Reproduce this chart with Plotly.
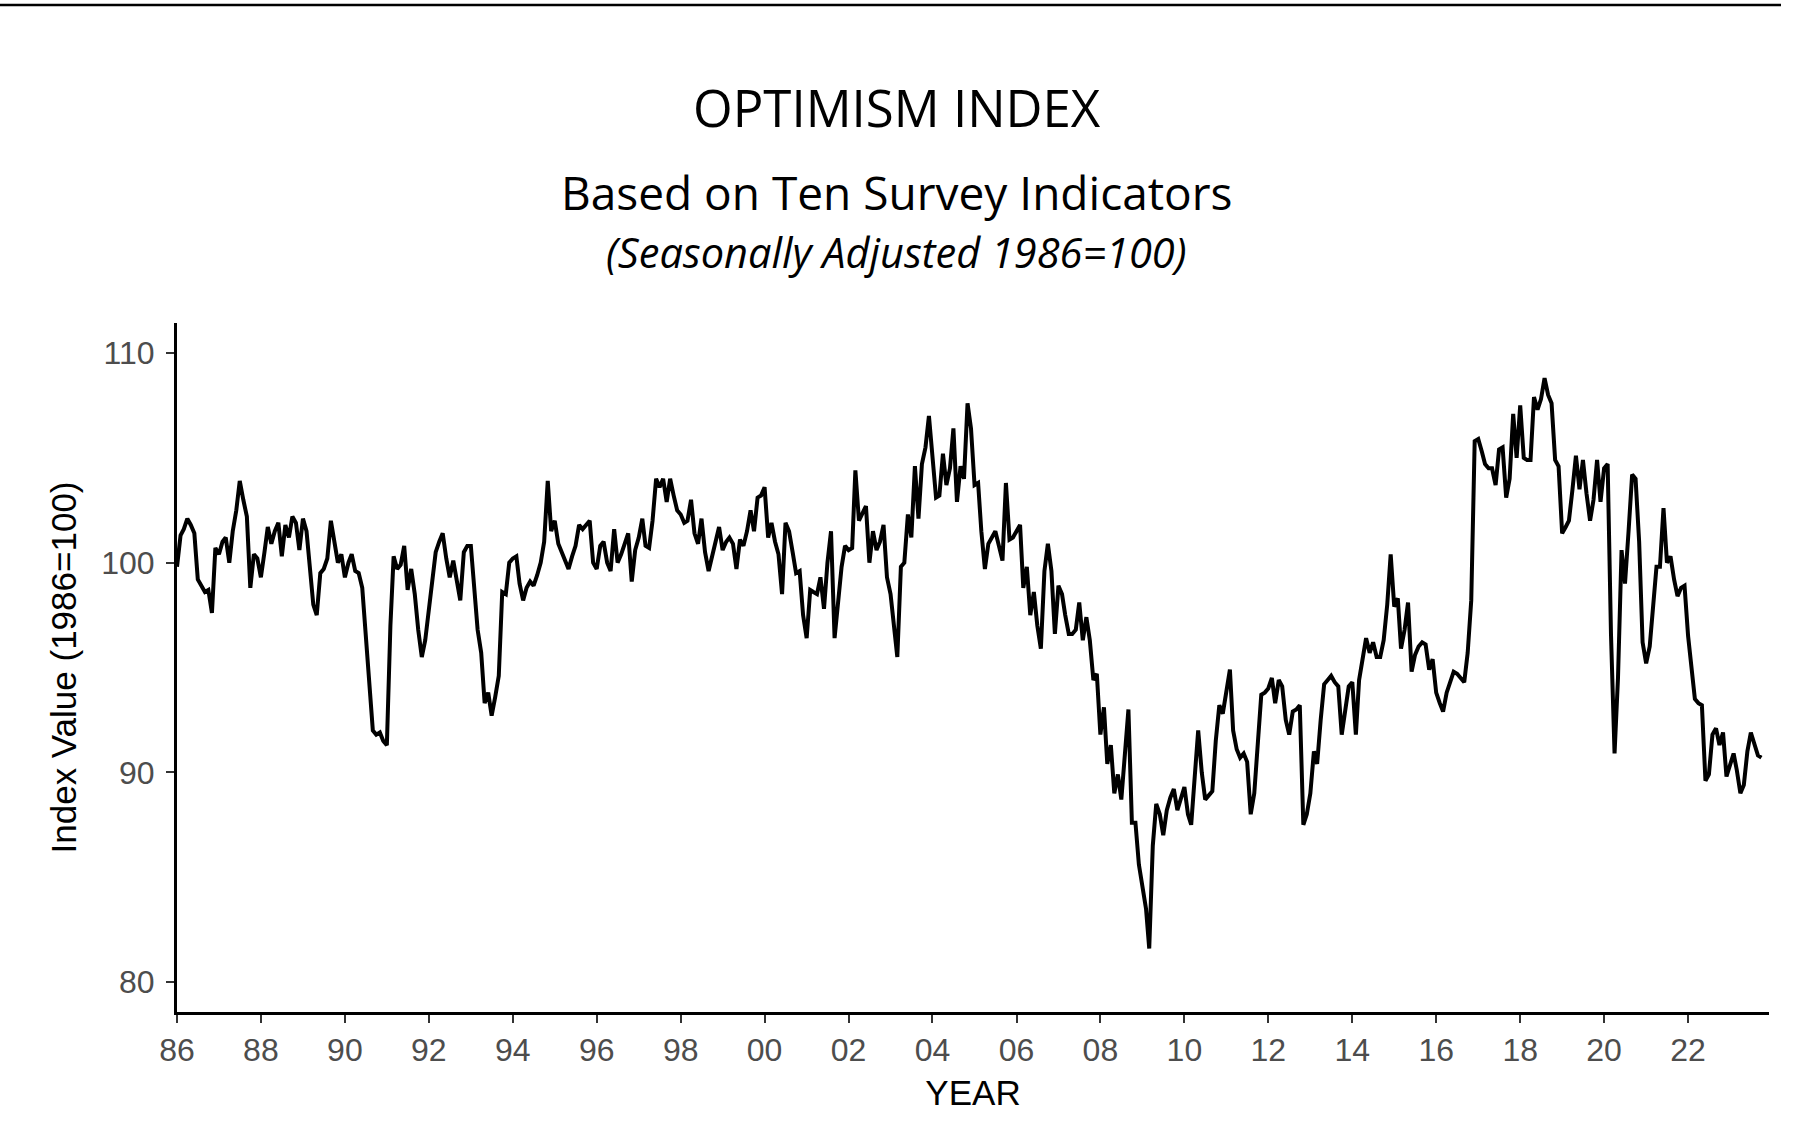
import pandas as pd
import plotly.graph_objects as go

# Monthly index values (Jan 1986 onward)
values_1986_1989 = [
    99.8, 101.3, 101.6, 102.1, 101.8, 101.4, 99.2, 98.9, 98.6, 98.7, 97.6, 100.7,
    100.4, 101.0, 101.2, 100.0, 101.5, 102.5, 103.9, 103.0, 102.2, 98.8, 100.4, 100.2,
    99.3, 100.5, 101.7, 100.9, 101.5, 101.9, 100.3, 101.8, 101.2, 102.2, 101.9, 100.6,
    102.1, 101.5, 100.0, 98.0, 97.5, 99.5, 99.7, 100.2, 102.0, 101.0, 100.0, 100.4,
]
values_1990s = [
    99.3, 100.0, 100.4, 99.6, 99.5, 98.8, 96.5, 94.0, 92.0, 91.8, 91.9, 91.5,
    91.3, 97.0, 100.3, 99.7, 99.9, 100.8, 98.7, 99.7, 98.5, 96.8, 95.5, 96.3,
    97.8, 99.5, 100.5, 101.0, 101.4, 100.2, 99.3, 100.1, 99.0, 98.2, 100.5, 100.8,
    100.8, 98.5, 96.8, 95.7, 93.3, 93.8, 92.7, 93.6, 94.6, 98.6, 98.5, 100.0,
    100.2, 100.3, 99.0, 98.2, 98.8, 99.1, 98.9, 99.4, 100.0, 101.0, 103.9, 101.5,
    102.0, 100.9, 100.5, 100.0, 99.7, 100.3, 100.8, 101.8, 101.6, 101.8, 102.0, 100.0,
    99.7, 100.8, 101.0, 100.0, 99.6, 101.6, 100.0, 100.4, 100.9, 101.4, 99.1, 100.6,
    101.2, 102.1, 100.8, 100.7, 102.0, 104.0, 103.6, 104.0, 102.9, 104.0, 103.2, 102.5,
    102.3, 101.9, 102.0, 103.0, 101.4, 100.9, 102.1, 100.5, 99.6, 100.3, 101.0, 101.7,
    100.6, 101.0, 101.2, 100.9, 99.7, 101.1, 100.8, 101.5, 102.5, 101.5, 103.1, 103.2,
]
values_2000s = [
    103.6, 101.2, 101.9, 101.0, 100.4, 98.5, 101.9, 101.5, 100.5, 99.5, 99.6, 97.5,
    96.4, 98.7, 98.6, 98.5, 99.3, 97.8, 100.0, 101.5, 96.4, 98.0, 99.8, 100.8,
    100.6, 100.7, 104.4, 102.0, 102.3, 102.7, 100.0, 101.5, 100.6, 101.0, 101.8, 99.3,
    98.5, 97.0, 95.5, 99.8, 100.0, 102.3, 101.2, 104.6, 102.1, 104.7, 105.5, 107.0,
    105.2, 103.1, 103.2, 105.2, 103.7, 104.5, 106.4, 102.9, 104.6, 104.0, 107.6, 106.4,
    103.7, 103.8, 101.5, 99.7, 100.9, 101.2, 101.5, 100.8, 100.1, 103.8, 101.1, 101.2,
    101.5, 101.8, 98.8, 99.8, 97.5, 98.6, 97.0, 95.9, 99.6, 100.9, 99.6, 96.6,
    98.9, 98.5, 97.5, 96.6, 96.6, 96.8, 98.1, 96.3, 97.4, 96.3, 94.4, 94.7,
    91.8, 93.1, 90.4, 91.3, 89.0, 89.9, 88.7, 91.0, 93.0, 87.6, 87.6, 85.6,
    84.6, 83.5, 81.6, 86.5, 88.5, 88.0, 87.0, 88.2, 88.8, 89.2, 88.2, 88.8,
]
values_2010s = [
    89.3, 88.0, 87.5, 89.8, 92.0, 90.0, 88.7, 88.9, 89.1, 91.5, 93.2, 92.8,
    93.8, 94.9, 92.0, 91.1, 90.7, 90.9, 90.5, 88.0, 89.0, 91.3, 93.7, 93.8,
    94.0, 94.5, 93.3, 94.4, 94.1, 92.5, 91.8, 92.9, 93.0, 93.2, 87.5, 88.0,
    89.0, 91.0, 90.4, 92.5, 94.2, 94.4, 94.6, 94.3, 94.1, 91.8, 93.0, 94.1,
    94.3, 91.8, 94.4, 95.5, 96.4, 95.7, 96.2, 95.5, 95.5, 96.3, 98.0, 100.4,
    97.9, 98.3, 95.9, 96.8, 98.1, 94.8, 95.6, 96.0, 96.2, 96.1, 94.9, 95.4,
    93.8, 93.3, 92.9, 93.8, 94.3, 94.8, 94.7, 94.5, 94.3, 95.7, 98.2, 105.8,
    105.9, 105.3, 104.7, 104.5, 104.5, 103.7, 105.4, 105.5, 103.1, 104.0, 107.1, 105.0,
    107.5, 105.0, 104.9, 104.9, 107.9, 107.3, 107.8, 108.8, 108.0, 107.6, 104.9, 104.6,
    101.4, 101.7, 102.0, 103.5, 105.1, 103.5, 104.9, 103.3, 102.0, 103.0, 104.9, 102.9,
]
values_2020s = [
    104.5, 104.7, 96.6, 90.9, 94.5, 100.6, 99.0, 101.5, 104.2, 104.0, 101.0, 96.2,
    95.2, 96.0, 98.0, 99.8, 99.8, 102.6, 100.0, 100.3, 99.2, 98.4, 98.8, 98.9,
    96.5, 95.0, 93.5, 93.3, 93.2, 89.6, 89.9, 91.8, 92.1, 91.3, 91.9, 89.8,
    90.3, 90.9, 90.1, 89.0, 89.4, 91.0, 91.9, 91.3, 90.8, 90.7,
]

tick_years = list(range(1986, 2023, 2))
tick_labels = [f"{y % 100:02d}" for y in tick_years]
y_ticks = [80, 90, 100, 110]

values = values_1986_1989 + values_1990s + values_2000s + values_2010s + values_2020s
dates = pd.date_range("1986-01-01", periods=len(values), freq="MS")

fig = go.Figure()
fig.add_trace(go.Scatter(
    x=dates, y=values, mode="lines",
    line=dict(color="black", width=4),
    hoverinfo="skip", showlegend=False,
))

W, H = 1804, 1122
ml, mr, mt, mb = 177, 35, 323, 110
ph = H - mt - mb

def py(p):
    return (H - mb - p) / ph

title_font = "Open Sans, Noto Sans, sans-serif"
axis_font = "Liberation Sans, Arial, sans-serif"

fig.update_layout(
    width=W, height=H,
    margin=dict(l=ml, r=mr, t=mt, b=mb, pad=0),
    paper_bgcolor="white", plot_bgcolor="white",
    xaxis=dict(
        type="date",
        range=["1986-01-01", "2023-12-06"],
        tickvals=[pd.Timestamp(f"{y}-01-01") for y in tick_years],
        ticktext=tick_labels,
        showline=True, linecolor="black", linewidth=3,
        ticks="outside", ticklen=8, tickwidth=2, tickcolor="#333333",
        showgrid=False, zeroline=False,
        tickfont=dict(family=axis_font, size=32, color="#4d4d4d"),
        title=dict(text="YEAR", font=dict(family=axis_font, size=35, color="black"), standoff=14),
    ),
    yaxis=dict(
        range=[78.57, 111.43],
        tickvals=y_ticks,
        ticktext=[str(v) for v in y_ticks],
        showline=True, linecolor="black", linewidth=3,
        ticks="outside", ticklen=8, tickwidth=2, tickcolor="#333333",
        ticklabelstandoff=5,
        showgrid=False, zeroline=False,
        tickfont=dict(family=axis_font, size=32, color="#4d4d4d"),
        title=dict(text="Index Value (1986=100)", font=dict(family=axis_font, size=35, color="black"), standoff=14),
    ),
    shapes=[dict(
        type="line", xref="paper", yref="paper",
        x0=(0 - ml) / (W - ml - mr), x1=(1781 - ml) / (W - ml - mr),
        y0=py(5), y1=py(5),
        line=dict(color="black", width=2.5),
    )],
    annotations=[
        dict(text="OPTIMISM INDEX", xref="paper", yref="paper", x=0.452, y=py(107),
             xanchor="center", yanchor="middle", showarrow=False,
             font=dict(family=title_font, size=51, color="black")),
        dict(text="Based on Ten Survey Indicators",
             xref="paper", yref="paper", x=0.452, y=py(192),
             xanchor="center", yanchor="middle", showarrow=False,
             font=dict(family=title_font, size=46, color="black")),
        dict(text="<i>(Seasonally Adjusted 1986=100)</i>",
             xref="paper", yref="paper", x=0.452, y=py(252),
             xanchor="center", yanchor="middle", showarrow=False,
             font=dict(family=title_font, size=41.5, color="black")),
    ],
)

fig.write_html("out.html", config={"displayModeBar": False},
               post_script="document.body.style.margin='0';")
